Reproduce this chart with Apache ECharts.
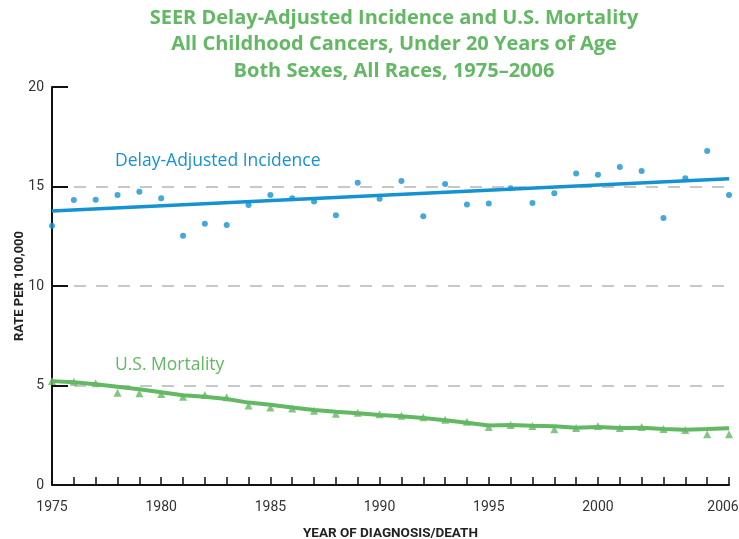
<!DOCTYPE html>
<html>
<head>
<meta charset="utf-8">
<script src="https://cdn.jsdelivr.net/npm/echarts@6/dist/echarts.min.js"></script>
<style>
  html, body { margin: 0; padding: 0; background: #fff; }
  #chart { width: 739px; height: 539px; }
</style>
</head>
<body>
<div id="chart"></div>
<script>
// years 1975..2006
var years = [];
for (var y = 1975; y <= 2006; y++) years.push(y);

// observed delay-adjusted incidence (dots)
var incidence = [13.03, 14.32, 14.34, 14.57, 14.74, 14.41, 12.53, 13.13, 13.07, 14.07,
  14.57, 14.41, 14.24, 13.55, 15.19, 14.39, 15.28, 13.50, 15.13, 14.09,
  14.15, 14.91, 14.17, 14.66, 15.65, 15.59, 15.98, 15.78, 13.42, 15.41,
  16.78, 14.57];
// fitted incidence trend (end points)
var incidenceTrendYears = [1975, 2006];
var incidenceTrend = [13.77, 15.39];

// observed mortality (triangles)
var mortality = [5.22, 5.19, 5.11, 4.64, 4.61, 4.57, 4.44, 4.52, 4.41, 3.99,
  3.90, 3.85, 3.73, 3.58, 3.63, 3.55, 3.48, 3.40, 3.28, 3.18,
  2.92, 3.02, 2.96, 2.80, 2.86, 2.96, 2.86, 2.91, 2.81, 2.76,
  2.55, 2.55];
// fitted mortality line
var mortalityFit = [5.22, 5.16, 5.06, 4.94, 4.81, 4.66, 4.51, 4.44, 4.32, 4.14,
  4.03, 3.90, 3.77, 3.68, 3.60, 3.52, 3.45, 3.37, 3.25, 3.13,
  2.99, 3.02, 2.98, 2.95, 2.88, 2.91, 2.86, 2.88, 2.81, 2.78,
  2.81, 2.85];

var xLabels = [1975, 1980, 1985, 1990, 1995, 2000, 2006];
var titleLines = ['SEER Delay-Adjusted Incidence and U.S. Mortality',
  'All Childhood Cancers, Under 20 Years of Age',
  'Both Sexes, All Races, 1975\u20132006'];

var blue = '#1492d2';
var green = '#63b863';

function pairs(xs, ys) {
  return xs.map(function (x, i) { return [x, ys[i]]; });
}

var chart = echarts.init(document.getElementById('chart'));
chart.setOption({
  animation: false,
  textStyle: { fontFamily: 'Roboto, sans-serif' },
  title: {
    text: titleLines.join('\n'),
    left: 389,
    textAlign: 'center',
    top: 0,
    textStyle: { color: green, fontSize: 20, fontWeight: 'bold', lineHeight: 26.5, fontFamily: 'Open Sans, sans-serif' }
  },
  grid: { left: 52, right: 10, top: 87, bottom: 54, outerBoundsMode: 'none' },
  xAxis: {
    type: 'value',
    min: 1975,
    max: 2006,
    interval: 1,
    name: 'YEAR OF DIAGNOSIS/DEATH',
    nameLocation: 'middle',
    nameGap: 42,
    nameTextStyle: { fontSize: 13.5, fontWeight: 'bold', color: '#222' },
    axisLine: { lineStyle: { color: '#111', width: 2 } },
    axisTick: { inside: true, length: 8, lineStyle: { color: '#111', width: 1.5 } },
    axisLabel: {
      color: '#333', fontSize: 14, margin: 15,
      formatter: function (v) {
        if (v === 2006) return '{last|2006}';
        return xLabels.indexOf(v) >= 0 ? String(v) : '';
      },
      rich: { last: { color: '#333', fontSize: 14, padding: [0, 12, 0, 0] } }
    },
    splitLine: { show: false }
  },
  yAxis: {
    type: 'value',
    min: 0,
    max: 20,
    interval: 5,
    name: 'RATE PER 100,000',
    nameLocation: 'middle',
    nameGap: 26,
    nameMoveOverlap: false,
    nameTextStyle: { fontSize: 13, fontWeight: 'bold', color: '#222' },
    axisLine: { show: true, lineStyle: { color: '#111', width: 2 } },
    axisTick: { show: true, inside: true, length: 16, lineStyle: { color: '#111', width: 2 } },
    axisLabel: { color: '#333', fontSize: 14, margin: 8 },
    splitLine: {
      show: true,
      lineStyle: { color: ['transparent', '#b5b5b5', '#b5b5b5', '#b5b5b5', 'transparent'], type: [12, 10], width: 1.5 }
    }
  },
  graphic: [
    { type: 'text', left: 115, top: 152, style: { text: 'Delay-Adjusted Incidence', fill: blue, fontSize: 17.5, fontFamily: 'Open Sans, sans-serif' } },
    { type: 'text', left: 115, top: 356, style: { text: 'U.S. Mortality', fill: green, fontSize: 17.5, fontFamily: 'Open Sans, sans-serif' } }
  ],
  series: [
    {
      name: 'Incidence trend', type: 'line', data: pairs(incidenceTrendYears, incidenceTrend),
      showSymbol: false, lineStyle: { color: blue, width: 3.5 }, z: 3
    },
    {
      name: 'Incidence', type: 'scatter', data: pairs(years, incidence),
      symbol: 'circle', symbolSize: 6, itemStyle: { color: blue }, z: 4
    },
    {
      name: 'Mortality fit', type: 'line', data: pairs(years, mortalityFit),
      showSymbol: false, lineStyle: { color: green, width: 4 }, z: 3
    },
    {
      name: 'Mortality', type: 'scatter', data: pairs(years, mortality),
      symbol: 'triangle', symbolSize: 8, itemStyle: { color: green }, z: 4
    }
  ]
});
</script>
</body>
</html>
